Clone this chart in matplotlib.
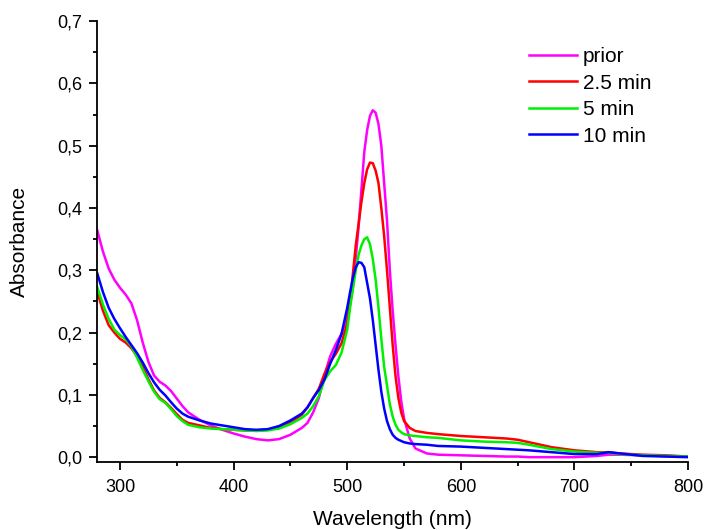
import matplotlib
matplotlib.use("Agg")
import matplotlib.pyplot as plt
from matplotlib.ticker import MultipleLocator, FuncFormatter

plt.rcParams['font.family'] = ['Liberation Sans', 'DejaVu Sans']

# Wavelength grid (nm)
wavelength = [280, 285, 290, 295, 300, 305, 310, 315, 320, 325, 330, 335, 340, 345,
              350, 355, 360, 370, 380, 390, 400, 410, 420, 430, 440, 450, 460, 465,
              470, 475, 480, 485, 490, 495, 500, 502.5, 505, 507.5, 510, 512.5, 515,
              517.5, 520, 522.5, 525, 527.5, 530, 532.5, 535, 537.5, 540, 542.5, 545,
              547.5, 550, 555, 560, 570, 580, 600, 620, 640, 650, 660, 680, 700, 720,
              730, 740, 760, 780, 800]

prior = [0.364, 0.330, 0.303, 0.285, 0.272, 0.261, 0.247, 0.220, 0.184, 0.153, 0.131,
         0.121, 0.115, 0.106, 0.094, 0.082, 0.072, 0.060, 0.051, 0.044, 0.038, 0.033,
         0.029, 0.027, 0.029, 0.036, 0.047, 0.055, 0.072, 0.095, 0.132, 0.162, 0.182,
         0.198, 0.225, 0.245, 0.275, 0.320, 0.370, 0.430, 0.490, 0.525, 0.548, 0.557,
         0.553, 0.535, 0.500, 0.440, 0.380, 0.300, 0.235, 0.180, 0.130, 0.090, 0.062,
         0.030, 0.014, 0.006, 0.004, 0.003, 0.002, 0.001, 0.001, 0.000, 0.000, 0.000,
         0.002, 0.004, 0.004, 0.003, 0.002, 0.001]

min_2_5 = [0.265, 0.235, 0.212, 0.200, 0.190, 0.184, 0.175, 0.162, 0.145, 0.125, 0.107,
           0.095, 0.088, 0.079, 0.069, 0.060, 0.055, 0.051, 0.047, 0.045, 0.044, 0.043,
           0.043, 0.044, 0.048, 0.056, 0.068, 0.080, 0.095, 0.110, 0.134, 0.153, 0.166,
           0.183, 0.215, 0.250, 0.295, 0.340, 0.375, 0.410, 0.440, 0.462, 0.473, 0.472,
           0.460, 0.440, 0.400, 0.355, 0.300, 0.240, 0.180, 0.130, 0.095, 0.072, 0.058,
           0.047, 0.042, 0.039, 0.037, 0.034, 0.032, 0.030, 0.028, 0.024, 0.016, 0.011,
           0.008, 0.008, 0.006, 0.004, 0.003, 0.001]

min_5 = [0.273, 0.245, 0.222, 0.205, 0.196, 0.189, 0.178, 0.160, 0.140, 0.122, 0.105,
         0.093, 0.087, 0.077, 0.066, 0.058, 0.052, 0.048, 0.046, 0.045, 0.044, 0.043,
         0.042, 0.043, 0.046, 0.053, 0.063, 0.070, 0.082, 0.098, 0.124, 0.138, 0.148,
         0.168, 0.205, 0.240, 0.270, 0.300, 0.325, 0.340, 0.350, 0.353, 0.342, 0.318,
         0.285, 0.240, 0.190, 0.145, 0.115, 0.085, 0.065, 0.052, 0.044, 0.040, 0.037,
         0.035, 0.034, 0.032, 0.031, 0.027, 0.025, 0.024, 0.023, 0.020, 0.013, 0.009,
         0.007, 0.007, 0.005, 0.003, 0.002, 0.001]

min_10 = [0.295, 0.265, 0.240, 0.222, 0.207, 0.193, 0.180, 0.167, 0.152, 0.135, 0.120,
          0.108, 0.099, 0.088, 0.078, 0.070, 0.065, 0.059, 0.054, 0.051, 0.048, 0.045,
          0.044, 0.045, 0.050, 0.059, 0.070, 0.080, 0.095, 0.108, 0.125, 0.150, 0.172,
          0.198, 0.240, 0.265, 0.288, 0.305, 0.313, 0.312, 0.305, 0.280, 0.255, 0.220,
          0.180, 0.140, 0.105, 0.078, 0.058, 0.045, 0.036, 0.031, 0.028, 0.026, 0.024,
          0.022, 0.021, 0.020, 0.018, 0.017, 0.015, 0.013, 0.012, 0.011, 0.008, 0.005,
          0.005, 0.008, 0.006, 0.002, 0.001, 0.000]

series_labels = ["prior", "2.5 min", "5 min", "10 min"]
series_colors = ["#FF00FF", "#FF0000", "#00F000", "#0000FF"]

fig = plt.figure(figsize=(7.05, 5.30), dpi=100)
ax = fig.add_axes([0.138, 0.128, 0.838, 0.832])

for y, lab, col in zip([prior, min_2_5, min_5, min_10], series_labels, series_colors):
    ax.plot(wavelength, y, color=col, lw=1.8, label=lab)

ax.set_xlim(280, 800)
ax.set_ylim(-0.008, 0.7)

ax.xaxis.set_major_locator(MultipleLocator(100))
ax.xaxis.set_minor_locator(MultipleLocator(50))
ax.yaxis.set_major_locator(MultipleLocator(0.1))
ax.yaxis.set_minor_locator(MultipleLocator(0.05))
ax.yaxis.set_major_formatter(FuncFormatter(lambda v, p: f"{v:.1f}".replace(".", ",")))

for side in ("top", "right"):
    ax.spines[side].set_visible(False)
for side in ("left", "bottom"):
    ax.spines[side].set_linewidth(1.3)

ax.tick_params(which="major", direction="out", length=6, width=1.3, labelsize=13, pad=5)
ax.tick_params(which="minor", direction="out", length=3, width=1.3)
ax.tick_params(axis="x", which="major", pad=6)

ax.set_xlabel("Wavelength (nm)", fontsize=15, labelpad=10)
ax.set_ylabel("Absorbance", fontsize=15, labelpad=20)

leg = ax.legend(loc="upper left", bbox_to_anchor=(0.731, 0.941), frameon=False,
                fontsize=15, handlelength=2.3, handletextpad=0.29,
                labelspacing=0.36, borderaxespad=0, borderpad=0)

fig.savefig("out.png", dpi=100)
